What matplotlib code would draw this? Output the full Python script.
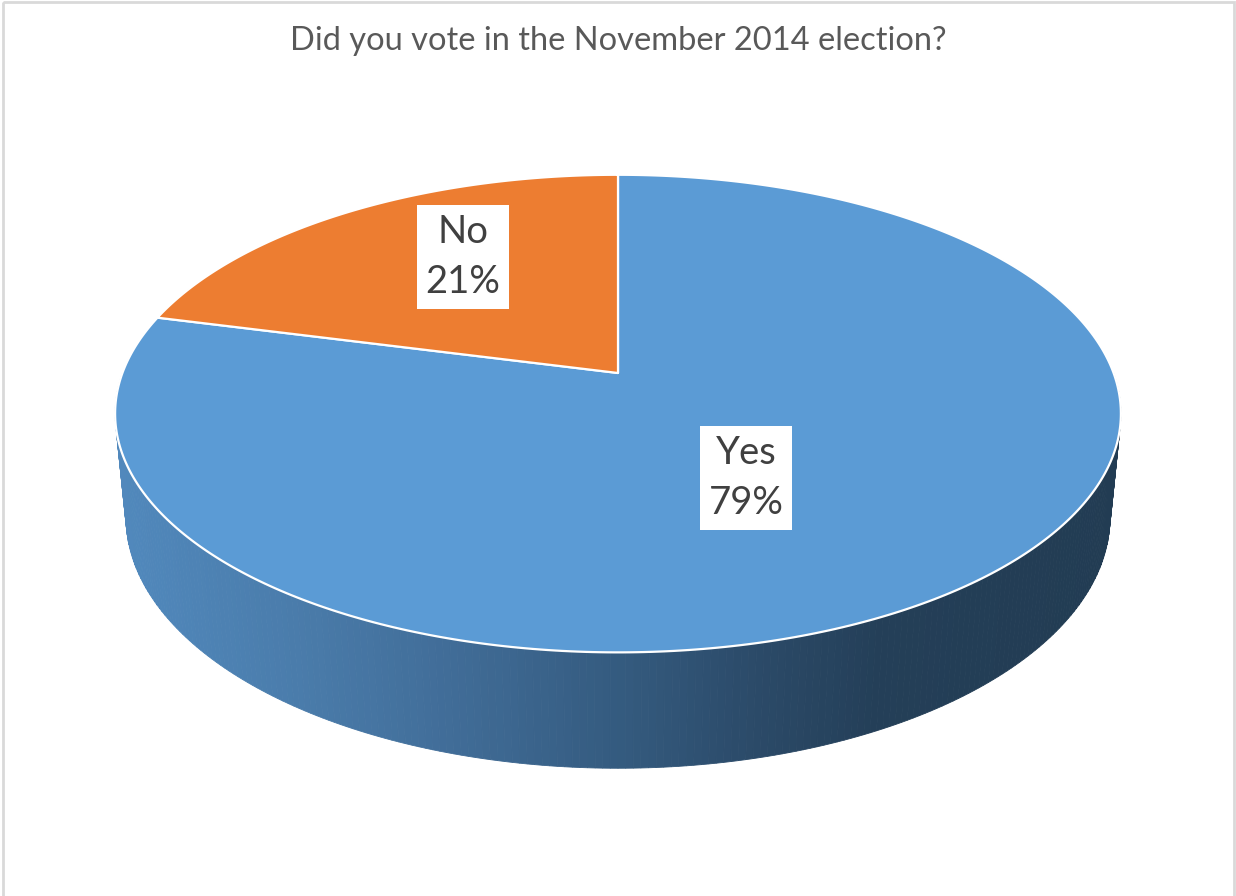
import numpy as np
import matplotlib
matplotlib.use("Agg")
import matplotlib.pyplot as plt
from matplotlib.patches import Polygon, Rectangle
from matplotlib.colors import LinearSegmentedColormap

# survey answers (share of respondents, %)
categories = ["Yes", "No"]
shares = [79, 21]
slice_colors = ["#5b9bd5", "#ed7d31"]
title = "Did you vote in the November 2014 election?"

# label box centres in canvas pixels
label_pos = [(746, 478), (463, 257)]

# perspective camera for the 3-D disc
TILT = np.radians(27.9)
DIST = 5.2
FOCAL = 2577.0
DEPTH = 0.239
CX, CY = 618.0, 373.0
W, H = 1236, 896


def project(u, v, z=0.0):
    s, c = np.sin(TILT), np.cos(TILT)
    den = DIST + v * c - z * s
    x = CX + FOCAL * u / den
    y = CY - FOCAL * (v * s + z * c) / den
    return np.column_stack([np.atleast_1d(x), np.atleast_1d(y)])


def rim(phi0, phi1, z=0.0, n=200):
    t = np.radians(np.linspace(phi0, phi1, n))
    return project(np.cos(t), np.sin(t), z)


fig = plt.figure(figsize=(W / 100, H / 100), dpi=100)
ax = fig.add_axes([0, 0, 1, 1])
ax.set_xlim(0, W)
ax.set_ylim(H, 0)
ax.axis("off")

ax.add_patch(Rectangle((3, 2), W - 5.5, H + 10, fill=False,
                       edgecolor="#d9d9d9", lw=2.0, zorder=0))

# side wall, shaded left-to-right
side_cmap = LinearSegmentedColormap.from_list("side", [
    (0.00, "#5189bd"), (0.18, "#4a7cab"), (0.33, "#416d98"),
    (0.49, "#355c81"), (0.64, "#2b4a68"), (0.76, "#243f58"),
    (1.00, "#223c53"),
])
n_strip = 240
phis = np.linspace(180, 360, n_strip + 1)
for a0, a1 in zip(phis[:-1], phis[1:]):
    top = rim(a0, a1, 0.0, 4)
    bot = rim(a1, a0, -DEPTH, 4)
    quad = np.vstack([top, bot])
    xm = quad[:, 0].mean()
    col = side_cmap(np.clip((xm - 115) / (1121 - 115), 0, 1))
    ax.add_patch(Polygon(quad, closed=True, facecolor=col,
                         edgecolor=col, lw=0.6, zorder=1))

# top face slices, clockwise from 12 o'clock
total = sum(shares)
start = 90.0
for cat, val, col in zip(categories, shares, slice_colors):
    sweep = 360.0 * val / total
    arc = rim(start, start - sweep, 0.0, 400)
    poly = np.vstack([project(0.0, 0.0), arc])
    ax.add_patch(Polygon(poly, closed=True, facecolor=col,
                         edgecolor="white", lw=1.6, joinstyle="round", zorder=2))
    start -= sweep

font = ["Lato", "DejaVu Sans"]
for cat, val, (lx, ly) in zip(categories, shares, label_pos):
    ax.text(lx, ly, f"{cat}\n{val}%", ha="center", va="center",
            fontsize=27.5, color="#404040", family=font, linespacing=1.5,
            bbox=dict(boxstyle="square,pad=0.22", facecolor="white",
                      edgecolor="none"), zorder=3)

ax.text(W / 2, 41, title, ha="center", va="center", fontsize=23.5,
        color="#595959", family=font)

fig.savefig("out.png", dpi=100, facecolor="white")
